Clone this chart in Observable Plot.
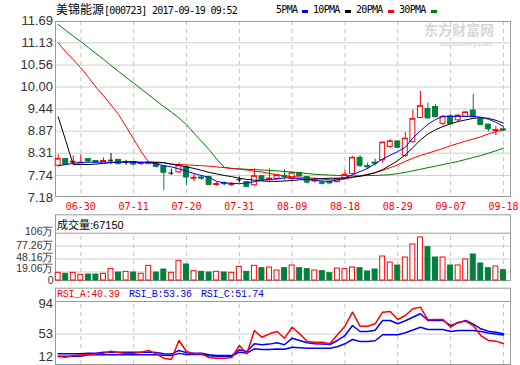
<!DOCTYPE html>
<html><head><meta charset="utf-8">
<script src="https://cdn.jsdelivr.net/npm/d3@7"></script>
<script src="https://cdn.jsdelivr.net/npm/@observablehq/plot@0.6"></script>
<style>
body{margin:0;background:#fff;}
#wrap{position:relative;width:520px;height:365px;overflow:hidden;background:#fff;}
#wrap svg{position:absolute;left:0;}
.t{position:absolute;white-space:nowrap;line-height:1;}
.mono{font-family:"DejaVu Sans Mono",monospace;font-size:10px;letter-spacing:-0.7px;color:#000;}
.cj{font-family:"Noto Sans CJK SC",sans-serif;font-size:12px;letter-spacing:0;}
.rsi{font-family:"Liberation Mono",monospace;font-size:10px;letter-spacing:-0.3px;}
.sw{position:absolute;width:6px;height:3px;}
</style></head><body>
<div id="wrap"></div>
<script>
const dates = ["06-27","06-28","06-29","06-30","07-03","07-04","07-05","07-06","07-07","07-10",
"07-11","07-12","07-13","07-14","07-17","07-18","07-19","07-20","07-21","07-24",
"07-25","07-26","07-27","07-28","07-31","08-01","08-02","08-03","08-04","08-07",
"08-08","08-09","08-10","08-11","08-14","08-15","08-16","08-17","08-18","08-21",
"08-22","08-23","08-24","08-25","08-28","08-29","08-30","08-31","09-01","09-04",
"09-05","09-06","09-07","09-08","09-11","09-12","09-13","09-14","09-15","09-18"];
const open = [7.99,8.16,8.07,8.05,8.16,8.11,8.09,8.13,8.14,8.08,8.08,8.03,8.03,8.06,7.97,7.80,7.82,7.95,7.66,7.69,
7.70,7.50,7.55,7.50,7.63,7.57,7.49,7.72,7.63,7.65,7.73,7.65,7.80,7.70,7.59,7.56,7.57,7.57,7.65,7.78,
8.19,7.98,8.07,8.13,8.47,8.61,8.24,8.59,9.21,9.44,9.49,9.06,9.25,9.15,9.24,9.40,9.18,9.04,8.88,8.92];
const close = [8.16,8.02,8.09,8.07,8.11,8.08,8.11,8.13,8.04,8.08,8.03,8.05,8.07,7.97,7.82,7.80,7.99,7.70,7.68,7.67,
7.51,7.52,7.53,7.52,7.63,7.46,7.72,7.62,7.66,7.74,7.71,7.80,7.73,7.57,7.61,7.54,7.55,7.65,7.76,8.19,
7.99,7.96,8.05,8.58,8.61,8.46,8.68,9.18,9.51,9.21,9.24,9.24,9.06,9.27,9.35,9.24,9.04,8.93,8.90,8.90];
const high = [8.27,8.17,8.24,8.27,8.18,8.12,8.19,8.30,8.15,8.13,8.09,8.08,8.08,8.07,7.99,7.90,8.06,7.99,7.78,7.74,
7.72,7.57,7.58,7.56,7.70,7.59,7.91,7.73,7.91,7.76,7.89,7.82,7.82,7.71,7.66,7.60,7.60,7.66,7.88,8.22,
8.25,8.06,8.16,8.59,8.66,8.62,8.84,9.41,9.89,9.59,9.55,9.28,9.30,9.29,9.37,9.81,9.20,9.05,8.99,8.96];
const low = [7.96,8.01,8.02,8.04,8.05,8.06,8.07,8.02,8.03,8.00,8.01,8.00,8.02,7.93,7.36,7.74,7.80,7.48,7.58,7.61,
7.48,7.46,7.47,7.46,7.55,7.44,7.46,7.60,7.55,7.63,7.62,7.60,7.72,7.52,7.55,7.50,7.50,7.55,7.63,7.76,
7.95,7.89,7.98,8.05,8.44,8.44,8.20,8.57,9.19,9.19,9.22,9.01,9.04,9.10,9.22,9.22,9.02,8.85,8.76,8.86];
const volume = [17.2,15.0,17.2,12.7,13.4,13.4,15.0,26.1,17.9,19.4,17.9,15.0,32.9,17.9,24.6,17.2,44.1,35.9,20.9,19.4,
17.9,19.4,17.9,17.2,30.6,19.4,32.9,27.6,29.1,22.4,27.6,33.6,27.6,25.4,22.4,20.9,16.4,26.9,25.4,29.1,
27.6,20.2,24.6,53.8,40.3,33.6,51.5,80.7,96.4,74.7,51.5,51.5,33.6,33.6,47.1,58.3,38.1,27.6,31.4,23.1];
const ma5 = [7.99,8.02,8.05,8.07,8.08,8.08,8.08,8.08,8.08,8.08,8.08,8.07,8.07,8.04,7.99,7.96,7.91,7.85,7.79,7.74,
7.69,7.59,7.55,7.54,7.53,7.55,7.58,7.62,7.64,7.65,7.68,7.68,7.66,7.64,7.62,7.60,7.59,7.63,7.68,7.76,
7.84,7.92,8.04,8.16,8.26,8.35,8.46,8.70,8.88,9.05,9.17,9.25,9.25,9.25,9.25,9.25,9.23,9.18,9.10,8.99];
const ma10 = [9.24,8.63,8.02,8.02,8.02,8.03,8.05,8.07,8.08,8.09,8.09,8.08,8.08,8.08,8.07,8.03,8.00,7.96,7.92,7.87,
7.82,7.78,7.74,7.71,7.67,7.64,7.62,7.60,7.59,7.59,7.60,7.61,7.63,7.64,7.65,7.66,7.67,7.67,7.68,7.70,
7.72,7.76,7.81,7.89,8.00,8.12,8.27,8.45,8.65,8.80,8.91,8.99,9.06,9.12,9.16,9.20,9.22,9.20,9.15,9.08];
const ma20 = [11.13,10.90,10.70,10.49,10.25,10.00,9.78,9.54,9.30,8.99,8.67,8.35,8.08,8.07,8.06,8.03,8.02,8.01,8.00,7.99,
7.98,7.96,7.94,7.92,7.90,7.88,7.85,7.83,7.79,7.76,7.73,7.71,7.70,7.68,7.67,7.65,7.63,7.62,7.65,7.69,
7.73,7.77,7.81,7.87,7.94,8.01,8.10,8.18,8.25,8.31,8.37,8.43,8.50,8.56,8.62,8.67,8.73,8.80,8.86,8.91];
const ma30 = [11.60,11.45,11.30,11.16,11.01,10.86,10.71,10.55,10.40,10.25,10.10,9.95,9.80,9.65,9.50,9.36,9.21,9.04,8.82,8.61,
8.40,8.16,7.95,7.92,7.91,7.90,7.89,7.88,7.87,7.86,7.84,7.83,7.81,7.79,7.77,7.76,7.75,7.74,7.74,7.73,
7.73,7.74,7.74,7.75,7.76,7.79,7.82,7.86,7.90,7.94,7.98,8.02,8.06,8.10,8.15,8.20,8.25,8.31,8.37,8.44];
const rsiA = [22.8,21.9,24.1,25.1,25.1,26.4,27.3,30.0,28.2,26.8,27.3,28.6,30.9,26.4,20.5,18.7,44.4,29.5,26.4,26.4,
21.4,20.5,20.5,21.4,37.6,26.4,57.9,48.8,53.4,56.5,47.5,62.3,53.4,43.0,42.1,42.1,39.9,52.1,63.7,82.6,
63.7,63.7,66.9,82.6,83.5,72.7,78.1,87.2,89.4,72.3,72.7,72.7,62.3,69.1,70.5,64.6,51.1,44.4,43.5,40.39];
const rsiB = [26.4,26.4,26.4,26.4,27.3,27.3,28.6,28.6,28.6,28.6,28.6,28.6,28.6,28.2,26.4,26.0,31.0,28.0,27.3,27.3,
25.1,24.1,24.1,24.1,31.8,29.5,39.9,38.6,39.5,41.3,38.6,47.5,44.4,41.3,40.0,39.5,39.0,44.4,51.1,64.6,
56.5,56.5,58.3,71.4,71.4,66.9,71.0,75.8,80.4,71.4,71.4,71.4,64.6,68.2,71.4,66.5,60.2,57.0,55.5,53.36];
const rsiC = [23.2,23.2,23.2,23.2,25.1,25.1,25.1,25.1,25.1,25.1,25.1,25.1,25.1,25.1,24.5,24.0,27.0,25.5,25.5,25.5,
23.8,23.2,23.2,23.2,28.6,27.5,33.2,32.2,32.2,33.0,32.5,35.4,34.6,34.0,34.0,34.0,34.0,36.0,39.9,45.7,
43.0,43.0,44.0,52.1,52.1,52.1,54.8,58.5,62.3,59.2,59.2,59.2,56.5,58.0,58.0,58.0,56.5,54.5,53.0,51.74];
const tickDates = ["06-30","07-11","07-20","07-31","08-09","08-18","08-29","09-07","09-18"];
const priceTicks = [7.18,7.74,8.31,8.87,9.44,10.00,10.56,11.13,11.69];
const volTicks = [0,19.06,48.16,77.26,106];
const rsiTicks = [12,53,94];

const rows = dates.map((d,i)=>({date:d,open:open[i],close:close[i],high:high[i],low:low[i],vol:volume[i],
  ma5:ma5[i],ma10:ma10[i],ma20:ma20[i],ma30:ma30[i],a:rsiA[i],b:rsiB[i],c:rsiC[i]}));

const RED="#ff0000", GREEN="#00803c", BLUE="#0000ff", GRID="#cfcfcf", DASH="#c4c4c4", FRAME="#9a9a9a";
const col = d => d.close>d.open?RED:d.close<d.open?GREEN:"#000000";
const volCol = d => d.close>=d.open?RED:GREEN;
const xScale = {type:"band",domain:dates,range:[53.9,506.7],padding:0,axis:null,label:null};
const base = {width:520,marginLeft:55,marginRight:10,color:{type:"identity"},
  style:{background:"transparent",color:"#333",fontFamily:"Liberation Sans, Arial, sans-serif",fontSize:"13px",overflow:"visible"}};
const wrap = document.getElementById("wrap");

const main = Plot.plot({...base,height:215,marginTop:21,marginBottom:19,
  x:xScale,
  y:{domain:[7.18,11.69],range:[196.9,20.4],axis:null,label:null},
  marks:[
    Plot.gridY(priceTicks.slice(1,-1),{stroke:GRID,strokeOpacity:1}),
    Plot.gridX(tickDates,{stroke:DASH,strokeOpacity:1,strokeDasharray:"4,4"}),
    Plot.frame({stroke:FRAME}),
    Plot.ruleX(rows,{x:"date",y1:"low",y2:"high",stroke:col}),
    Plot.barY(rows,{x:"date",y1:"open",y2:"close",fill:d=>d.close>d.open?"#ffffff":col(d),stroke:col,insetLeft:1.3,insetRight:1.3}),
    Plot.tickY(rows,{x:"date",y:"close",stroke:col,insetLeft:1.3,insetRight:1.3}),
    Plot.lineY(rows,{x:"date",y:"ma30",stroke:"#008000",strokeWidth:1}),
    Plot.lineY(rows,{x:"date",y:"ma20",stroke:RED,strokeWidth:1}),
    Plot.lineY(rows,{x:"date",y:"ma10",stroke:"#000000",strokeWidth:1}),
    Plot.lineY(rows,{x:"date",y:"ma5",stroke:BLUE,strokeWidth:1}),
    Plot.axisY(priceTicks,{tickSize:0,tickPadding:2.5,tickFormat:d=>d.toFixed(2),label:null}),
    Plot.axisX(tickDates,{tickSize:0,tickPadding:6,fill:RED,fontFamily:"DejaVu Sans Mono",fontSize:10,label:null})
  ]});
main.style.top="0px"; wrap.appendChild(main);

const volFmt = d=>d===0?"0":d+"万";
const volAxis = {tickSize:0,tickPadding:2,fontSize:10.5,tickFormat:volFmt,label:null};
const vol = Plot.plot({...base,height:70,marginTop:2.3,marginBottom:2,
  x:xScale,
  y:{domain:[0,106],range:[68,20.7],axis:null,label:null},
  marks:[
    Plot.gridY(volTicks.slice(1,-1),{stroke:GRID,strokeOpacity:1}),
    Plot.ruleX(tickDates,{x:d=>d,y1:0,y2:106,stroke:DASH,strokeDasharray:"4,4"}),
    Plot.ruleY([106],{stroke:FRAME}),
    Plot.frame({stroke:FRAME}),
    Plot.barY(rows,{x:"date",y:"vol",fill:d=>volCol(d)===RED?"#ffffff":GREEN,stroke:volCol,insetLeft:1.3,insetRight:1.3}),
    Plot.axisY(volTicks.filter(v=>v===106||v===48.16),{...volAxis,dy:-1.8}),
    Plot.axisY(volTicks.filter(v=>v===77.26),{...volAxis,dy:-0.5}),
    Plot.axisY(volTicks.filter(v=>v===19.06),{...volAxis,dy:-3.5}),
    Plot.axisY(volTicks.filter(v=>v===0),{...volAxis,dy:0})
  ]});
vol.style.top="212px"; wrap.appendChild(vol);

const rsi = Plot.plot({...base,height:80,marginTop:2.7,marginBottom:1,
  x:xScale,
  y:{domain:[12,97],range:[79,16],axis:null,label:null},
  marks:[
    Plot.gridY([53],{stroke:GRID,strokeOpacity:1}),
    Plot.ruleX(tickDates,{x:d=>d,y1:12,y2:97,stroke:DASH,strokeDasharray:"4,4"}),
    Plot.ruleY([97],{stroke:FRAME}),
    Plot.frame({stroke:FRAME}),
    Plot.lineY(rows,{x:"date",y:"c",stroke:BLUE}),
    Plot.lineY(rows,{x:"date",y:"b",stroke:BLUE}),
    Plot.lineY(rows,{x:"date",y:"a",stroke:RED}),
    Plot.axisY(rsiTicks.slice(1),{tickSize:0,tickPadding:2.5,label:null}),
    Plot.axisY(rsiTicks.slice(0,1),{tickSize:0,tickPadding:2.5,dy:-8,label:null})
  ]});
rsi.style.top="285px"; wrap.appendChild(rsi);

function addText(html, cls, left, top, color){
  const e=document.createElement("div"); e.className="t "+cls; e.innerHTML=html;
  e.style.left=left+"px"; e.style.top=top+"px"; if(color) e.style.color=color; wrap.appendChild(e); return e;
}
function sw(left, top, color){ const e=document.createElement("div"); e.className="sw"; e.style.left=left+"px"; e.style.top=top+"px"; e.style.background=color; wrap.appendChild(e);}
// title + legend
addText('<span class="cj">美锦能源</span>[000723] 2017-09-19 09:52', "mono", 56, 3);
addText("5PMA","mono",276,5); sw(301.5,10,BLUE);
addText("10PMA","mono",313,5); sw(345,10,"#000");
addText("20PMA","mono",356,5); sw(388,10,RED);
addText("30PMA","mono",399,5); sw(431,10,"#008000");
// watermark
addText("东方财富网","",424,22,"#d8d8d8").style.cssText+="font:bold 14px/1 'Noto Sans CJK SC';";
addText("eastmoney.com","",440,40,"#d8d8d8").style.cssText+="font:bold 7px/1 'Liberation Sans';";
// volume header
addText("成交量:67150","",57,216,"#000").style.cssText+="font:11px 'Liberation Sans','Noto Sans CJK SC';";
// rsi header
addText("RSI_A:40.39","rsi",57,290,RED);
addText("RSI_B:53.36","rsi",129,290,BLUE);
addText("RSI_C:51.74","rsi",201,290,BLUE);
</script>
</body></html>
